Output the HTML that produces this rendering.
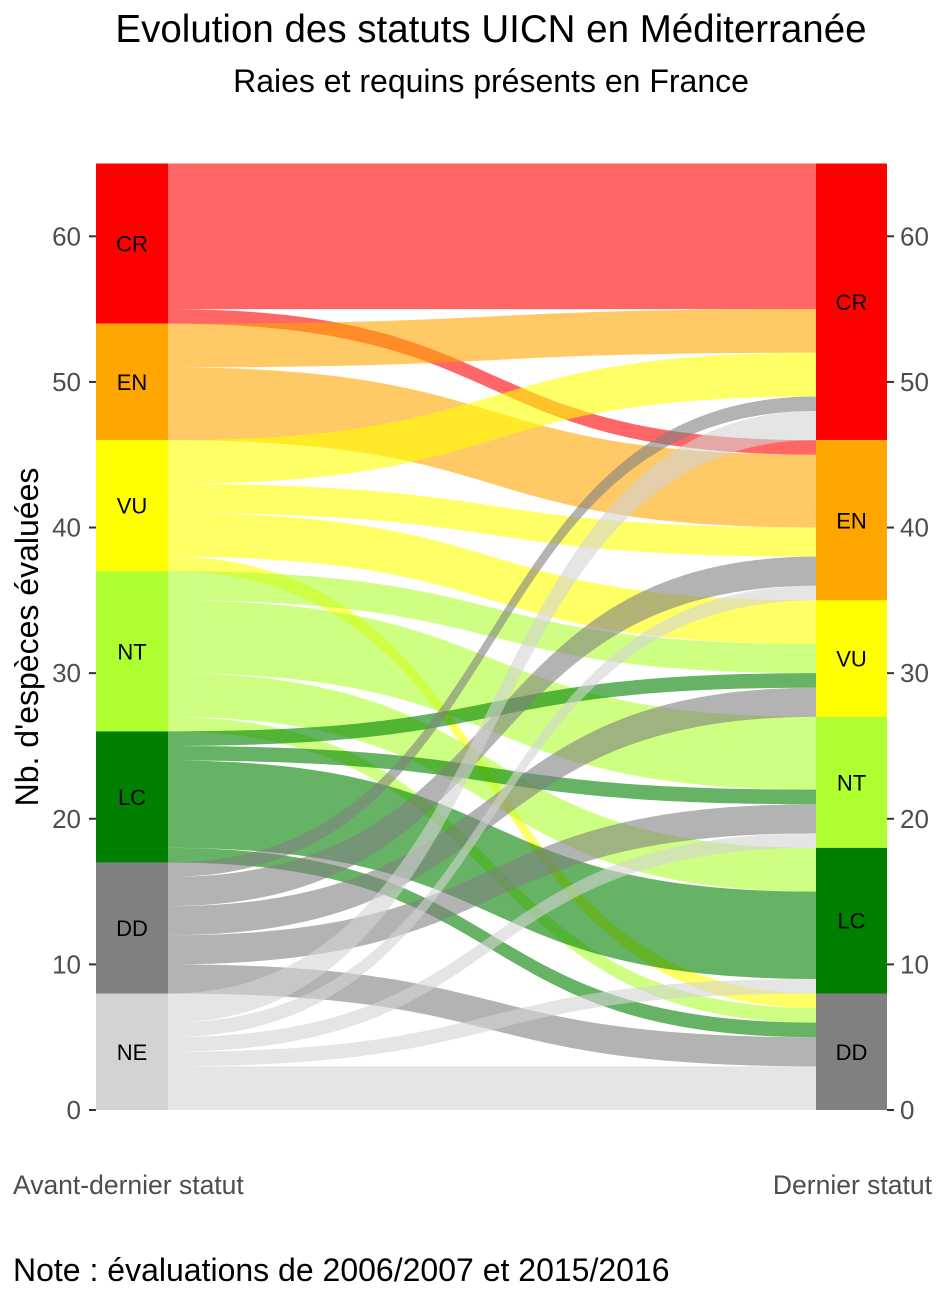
<!DOCTYPE html>
<html><head><meta charset="utf-8"><style>
body{margin:0;background:#fff;}
svg text{font-family:"Liberation Sans",Arial,sans-serif;}
</style></head><body>
<svg id="chart" width="944" height="1299" viewBox="0 0 944 1299" xmlns="http://www.w3.org/2000/svg">
<text x="491" y="42" font-size="38.5" text-anchor="middle" fill="#000">Evolution des statuts UICN en Méditerranée</text>
<text x="491" y="92" font-size="32" text-anchor="middle" fill="#000">Raies et requins présents en France</text>
<text transform="translate(38,637) rotate(-90)" font-size="32" text-anchor="middle" fill="#000">Nb. d'espèces évaluées</text>
<g id="flows"></g>
<g id="strata"></g>
<g id="axes"></g>
<text x="13" y="1194" font-size="26.5" fill="#4d4d4d">Avant-dernier statut</text>
<text x="932" y="1194" font-size="26.5" text-anchor="end" fill="#4d4d4d">Dernier statut</text>
<text x="13" y="1281" font-size="32" fill="#000">Note : évaluations de 2006/2007 et 2015/2016</text>
</svg>
<script>
const statuses = ["CR","EN","VU","NT","LC","DD","NE"];
const colors = ["#ff0000","#ffa500","#ffff00","#adff2f","#008000","#808080","#d3d3d3"];
const flowFrom = ["CR","CR","EN","EN","VU","VU","VU","VU","NT","NT","NT","NT","LC","LC","LC","LC","DD","DD","DD","DD","DD","NE","NE","NE","NE","NE"];
const flowTo   = ["CR","EN","CR","EN","CR","EN","VU","DD","VU","NT","LC","DD","VU","NT","LC","DD","CR","EN","VU","NT","DD","CR","EN","NT","LC","DD"];
const flowN    = [10,1,3,5,3,2,3,1,2,5,3,1,1,1,6,1,1,2,2,2,2,2,1,1,1,3];
const yTicks = [0,10,20,30,40,50,60];

const NS="http://www.w3.org/2000/svg";
const y0=1110, yTop=163.5, total=65;
const ys = v => y0 - v*(y0-yTop)/total;
const LX0=96, LX1=168, RX0=816, RX1=887;
function mk(tag, attrs, parent){const e=document.createElementNS(NS,tag);for(const k in attrs)e.setAttribute(k,attrs[k]);parent.appendChild(e);return e;}
const idx = s => statuses.indexOf(s);
const leftTot = statuses.map(s=>flowN.filter((n,i)=>flowFrom[i]===s).reduce((a,b)=>a+b,0));
const rightTot = statuses.map(s=>flowN.filter((n,i)=>flowTo[i]===s).reduce((a,b)=>a+b,0));
function tops(tot){const t=[];let acc=total;for(let i=0;i<tot.length;i++){t.push(acc);acc-=tot[i];}return t;}
const leftTop=tops(leftTot), rightTop=tops(rightTot);
const lCur=leftTop.slice(), rCur=rightTop.slice();
const order=flowN.map((n,i)=>i);
const lPos={}, rPos={};
statuses.forEach((s,si)=>{order.filter(i=>flowFrom[i]===s).sort((a,b)=>idx(flowTo[a])-idx(flowTo[b])).forEach(i=>{lPos[i]=lCur[si];lCur[si]-=flowN[i];});});
statuses.forEach((s,si)=>{order.filter(i=>flowTo[i]===s).sort((a,b)=>idx(flowFrom[a])-idx(flowFrom[b])).forEach(i=>{rPos[i]=rCur[si];rCur[si]-=flowN[i];});});
const fg=document.getElementById('flows');
const c1=LX1+(RX0-LX1)*0.55, c2=RX0-(RX0-LX1)*0.55;
order.forEach(i=>{
  const a1=ys(lPos[i]), a2=ys(lPos[i]-flowN[i]), b1=ys(rPos[i]), b2=ys(rPos[i]-flowN[i]);
  const d=`M${LX1},${a1} C${c1},${a1} ${c2},${b1} ${RX0},${b1} L${RX0},${b2} C${c2},${b2} ${c1},${a2} ${LX1},${a2} Z`;
  const p=mk('path',{d:d,fill:colors[idx(flowFrom[i])],'fill-opacity':0.6},fg);
  
  
});
const sg=document.getElementById('strata');
statuses.forEach((s,si)=>{
  [[LX0,LX1,leftTop[si],leftTot[si],'left'],[RX0,RX1,rightTop[si],rightTot[si],'right']].forEach(([x0,x1,t,n,side])=>{
    if(n<=0) return;
    const r=mk('rect',{x:x0,y:ys(t),width:x1-x0,height:ys(t-n)-ys(t),fill:colors[si]},sg);
    
    
    const tx=mk('text',{x:(x0+x1)/2,y:(ys(t)+ys(t-n))/2+8,'font-size':22,'text-anchor':'middle',fill:'#000'},sg);
    tx.textContent=s;
    
    
  });
});
const ag=document.getElementById('axes');
yTicks.forEach(v=>{
  const y=ys(v);
  const t1=mk('line',{x1:89,x2:96,y1:y,y2:y,stroke:'#333','stroke-width':2},ag);
  
  
  const t2=mk('line',{x1:887,x2:894,y1:y,y2:y,stroke:'#333','stroke-width':2},ag);
  
  
  const l1=mk('text',{x:81,y:y+9,'font-size':26,'text-anchor':'end',fill:'#4d4d4d'},ag);
  l1.textContent=v;
  
  
  const l2=mk('text',{x:900,y:y+9,'font-size':26,fill:'#4d4d4d'},ag);
  l2.textContent=v;
  
  
});
</script>
</body></html>
